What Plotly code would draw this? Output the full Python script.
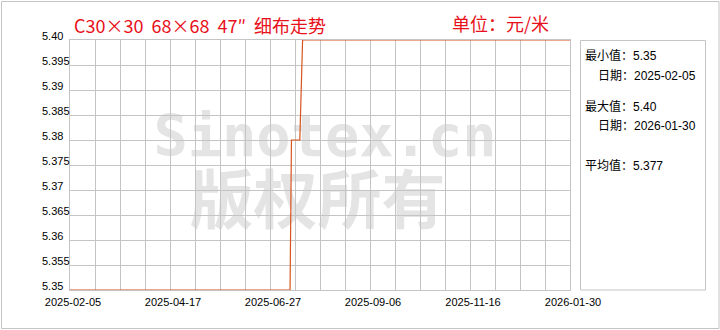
import pandas as pd
import plotly.graph_objects as go

# ---- data ----
dates = ["2025-02-05", "2025-07-13", "2025-07-14", "2025-07-20", "2025-07-22", "2026-01-30"]
prices = [5.35, 5.35, 5.38, 5.38, 5.40, 5.40]

y_ticks = [5.35, 5.355, 5.36, 5.365, 5.37, 5.375, 5.38, 5.385, 5.39, 5.395, 5.40]
y_labels = ["5.35", "5.355", "5.36", "5.365", "5.37", "5.375", "5.38", "5.385", "5.39", "5.395", "5.40"]
x_labels = ["2025-02-05", "2025-04-17", "2025-06-27", "2025-09-06", "2025-11-16", "2026-01-30"]

title_text = "C30×30  68×68  47″  细布走势"
unit_text = "单位：元/米"
min_value = "5.35"
min_date = "2025-02-05"
max_value = "5.40"
max_date = "2026-01-30"
avg_value = "5.377"

# ---- figure ----
L, R, T, B = 70, 150, 40, 40
W, H = 720, 330
PW, PH = W - L - R, H - T - B

def px_x(px):
    return (px - L) / PW

def px_y(py):
    return (H - B - py) / PH

start = pd.Timestamp(x_labels[0])
end = pd.Timestamp(x_labels[-1])
grid_x = [start + i * (end - start) / 20 for i in range(21)]
grid_text = [x_labels[i // 4] if i % 4 == 0 else "" for i in range(21)]

fig = go.Figure()
fig.add_trace(go.Scatter(
    x=dates, y=prices, mode="lines",
    line=dict(color="#D9531E", width=1.2),
    hoverinfo="x+y", showlegend=False,
))

tick_font = dict(family="Liberation Sans, Arial, sans-serif", size=11, color="#000000")
cjk = "Noto Sans CJK SC, sans-serif"

fig.update_layout(
    width=W, height=H,
    margin=dict(l=L, r=R, t=T, b=B),
    paper_bgcolor="#ffffff", plot_bgcolor="#ffffff",
    xaxis=dict(
        range=[start, end], tickmode="array", tickvals=grid_x, ticktext=grid_text,
        showgrid=True, gridcolor="#c4c4c4", gridwidth=1,
        showline=True, linecolor="#c4c4c4", mirror=True,
        ticks="", tickfont=tick_font, zeroline=False,
        ticklabelshift=3, ticklabelstandoff=2, fixedrange=True,
    ),
    yaxis=dict(
        range=[5.35, 5.40], tickmode="array", tickvals=y_ticks,
        showticklabels=False, showgrid=True, gridcolor="#c4c4c4", gridwidth=1,
        showline=True, linecolor="#c4c4c4", mirror=True,
        ticks="", zeroline=False, fixedrange=True,
    ),
)

shapes = []
# outer border
shapes.append(dict(type="rect", xref="paper", yref="paper",
                   x0=px_x(1.5), x1=px_x(719), y0=px_y(1.5), y1=px_y(328.5),
                   line=dict(color="#c4c4c4", width=1), layer="below"))
# stats box
shapes.append(dict(type="rect", xref="paper", yref="paper",
                   x0=px_x(580.5), x1=px_x(705.5), y0=px_y(290), y1=px_y(40.5),
                   line=dict(color="#c4c4c4", width=1), layer="below"))
# watermarks (below gridlines)
shapes.append(dict(type="rect", xref="paper", yref="paper",
                   x0=px_x(150), x1=px_x(500), y0=px_y(158), y1=px_y(106),
                   line=dict(width=0), fillcolor="rgba(0,0,0,0)", layer="below",
                   label=dict(text="Sinotex.cn", textposition="middle center",
                              font=dict(family="DejaVu Sans Mono, monospace", size=57,
                                        color="#e4e4e4", weight="bold"))))
shapes.append(dict(type="rect", xref="paper", yref="paper",
                   x0=px_x(180), x1=px_x(455), y0=px_y(238), y1=px_y(172),
                   line=dict(width=0), fillcolor="rgba(0,0,0,0)", layer="below",
                   label=dict(text="版权所有", textposition="middle center",
                              font=dict(family=cjk, size=64, color="#e4e4e4", weight="bold"))))
fig.update_layout(shapes=shapes)

ann = []
for v, t in zip(y_ticks, y_labels):
    ann.append(dict(x=px_x(40), y=v, xref="paper", yref="y", text=t, showarrow=False,
                    xanchor="left", yanchor="middle", yshift=4, font=tick_font))

ann.append(dict(x=px_x(72), y=px_y(25), xref="paper", yref="paper", text=title_text,
                showarrow=False, xanchor="left", yanchor="middle",
                font=dict(family=cjk, size=18, color="#E8101A")))
ann.append(dict(x=px_x(450), y=px_y(23), xref="paper", yref="paper", text=unit_text,
                showarrow=False, xanchor="left", yanchor="middle",
                font=dict(family=cjk, size=18, color="#E8101A")))

box_font = dict(family="Liberation Sans, Noto Sans CJK SC, sans-serif", size=12, color="#000000")
box_lines = [
    (583, 56, "最小值：" + min_value),
    (596, 76, "日期：" + min_date),
    (583, 106.5, "最大值：" + max_value),
    (596, 126, "日期：" + max_date),
    (583, 165.5, "平均值：" + avg_value),
]
for bx, by, txt in box_lines:
    ann.append(dict(x=px_x(bx), y=px_y(by), xref="paper", yref="paper", text=txt,
                    showarrow=False, xanchor="left", yanchor="middle", font=box_font))

fig.update_layout(annotations=ann)
fig.write_html("out.html")
